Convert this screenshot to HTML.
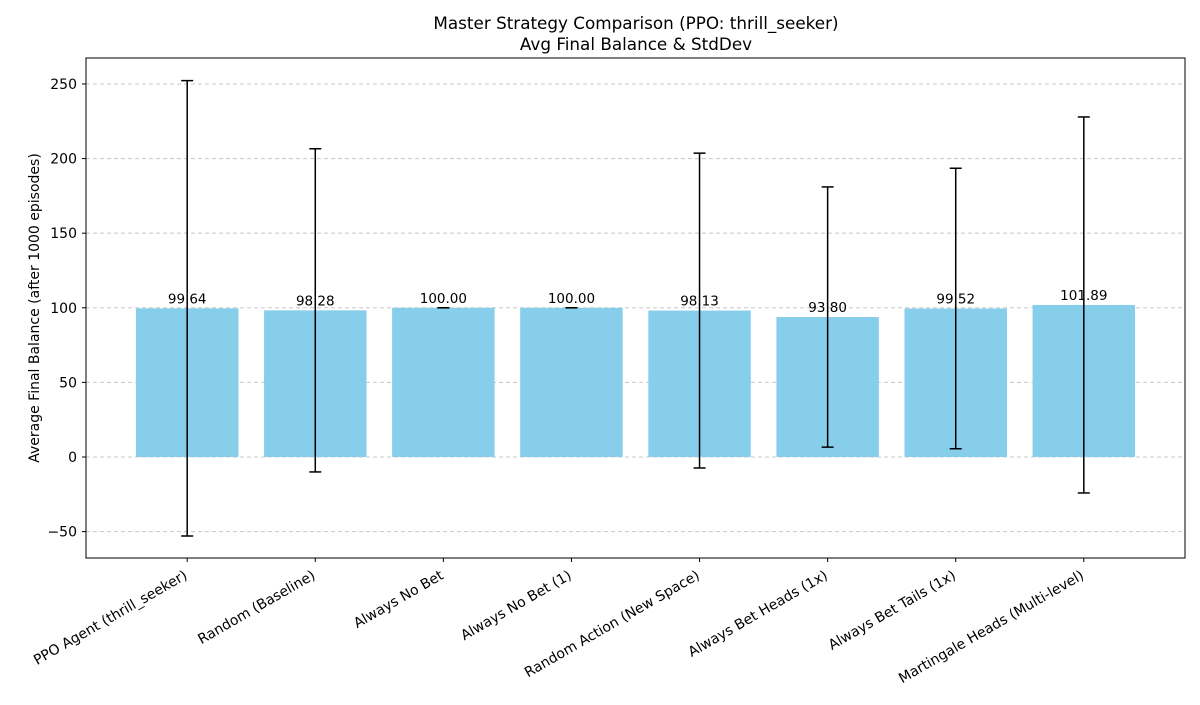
<!DOCTYPE html>
<html><head><meta charset="utf-8"><style>
body{margin:0;background:#fff}
text{font-family:"DejaVu Sans","Liberation Sans",sans-serif;fill:#000}
</style></head><body>
<svg id="chart" width="1200" height="700" xmlns="http://www.w3.org/2000/svg">
<text x="636" y="29" font-size="16.8" text-anchor="middle">Master Strategy Comparison (PPO: thrill_seeker)</text>
<text x="636" y="50" font-size="16.8" text-anchor="middle">Avg Final Balance &amp; StdDev</text>
<text transform="translate(39,308) rotate(-90)" font-size="14" text-anchor="middle">Average Final Balance (after 1000 episodes)</text>
<g id="grid"></g><g id="bars"></g><g id="axes"></g>
</svg>
<script>
const categories=["PPO Agent (thrill_seeker)","Random (Baseline)","Always No Bet","Always No Bet (1)","Random Action (New Space)","Always Bet Heads (1x)","Always Bet Tails (1x)","Martingale Heads (Multi-level)"];
const means=[99.64,98.28,100.00,100.00,98.13,93.80,99.52,101.89];
const stds=[152.6,108.3,0,0,105.5,87.2,94.0,126.0];
const yTicks=[-50,0,50,100,150,200,250];
const NS="http://www.w3.org/2000/svg";
const L=86,R=1185,T=58,B=558,ymin=-67.7,ymax=267.4;
const n=categories.length;
const xmin=-0.79,xmax=n-1+0.79;
const X=i=>L+(i-xmin)/(xmax-xmin)*(R-L);
const Y=v=>B-(v-ymin)/(ymax-ymin)*(B-T);
const bw=(R-L)/(xmax-xmin)*0.8;
function mk(t,a,p){const e=document.createElementNS(NS,t);for(const k in a)e.setAttribute(k,a[k]);p.appendChild(e);return e;}
const grid=document.getElementById('grid'),bars=document.getElementById('bars'),axes=document.getElementById('axes');
yTicks.forEach(t=>{
 const g=mk('line',{x1:L,x2:R,y1:Y(t),y2:Y(t),stroke:'#c8c8c8','stroke-dasharray':'4,3','stroke-width':1},grid);
 
 
 const tk=mk('line',{x1:L-4,x2:L,y1:Y(t),y2:Y(t),stroke:'#000'},axes);
 
 
 const lb=mk('text',{x:L-9,y:Y(t)+5,'font-size':14,'text-anchor':'end'},axes);
 lb.textContent=(t<0?'\u2212'+(-t):t);
 
 
});
categories.forEach((c,i)=>{
 const x=X(i),m=means[i],s=stds[i];
 const r=mk('rect',{x:x-bw/2,y:Math.min(Y(m),Y(0)),width:bw,height:Math.abs(Y(0)-Y(m)),fill:'#87ceeb'},bars);
 
 
 const eg=mk('g',{stroke:'#000','stroke-width':1.5},bars);
 
 
 mk('line',{x1:x,x2:x,y1:Y(m+s),y2:Y(m-s)},eg);
 mk('line',{x1:x-6,x2:x+6,y1:Y(m+s),y2:Y(m+s)},eg);
 mk('line',{x1:x-6,x2:x+6,y1:Y(m-s),y2:Y(m-s)},eg);
 const vl=mk('text',{x:x,y:Y(m)-5,'font-size':13.5,'text-anchor':'middle'},bars);
 vl.textContent=m.toFixed(2);
 
 
 const tk=mk('line',{x1:x,x2:x,y1:B,y2:B+4,stroke:'#000'},axes);
 
 
 const xl=mk('text',{transform:`translate(${x+1},${B+20}) rotate(-30)`,'font-size':14,'text-anchor':'end'},axes);
 xl.textContent=c;
 
 
});
const fr=mk('rect',{x:L,y:T,width:R-L,height:B-T,fill:'none',stroke:'#000','stroke-width':1},axes);


</script>
</body></html>
